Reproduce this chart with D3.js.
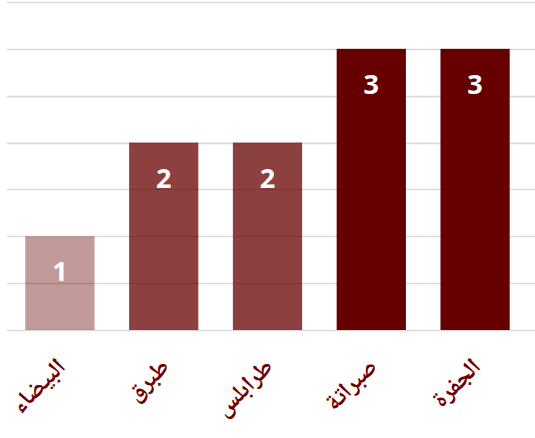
<!DOCTYPE html>
<html>
<head>
<meta charset="utf-8">
<script src="https://cdn.jsdelivr.net/npm/d3@7"></script>
<style>
  body { margin: 0; background: #fff; }
  .grid line { stroke: #d9d9d9; stroke-width: 1.3; }
  .value { fill: #fff; font-family: "Open Sans", sans-serif; font-weight: bold; font-size: 27px; }
  .cat { fill: #6e0000; font-family: "Noto Naskh Arabic", "Noto Sans Arabic", "DejaVu Sans", sans-serif; font-weight: bold; font-size: 24px; }
</style>
</head>
<body>
<div id="chart"></div>
<script>
// data
var categories = ['البيضاء', 'طبرق', 'طرابلس', 'صبراتة', 'الجفرة'];
var values = [1, 2, 2, 3, 3];
var shades = [0.4, 0.75, 0.75, 1, 1]; // bar opacity over the dark red
var gridTicks = [0, 0.5, 1, 1.5, 2, 2.5, 3, 3.5];

var width = 535, height = 438;

var svg = d3.select('#chart').append('svg')
  .attr('width', width)
  .attr('height', height);

var x = d3.scaleBand()
  .domain(categories)
  .range([8, 527])
  .paddingInner(0.333)
  .paddingOuter(0.1667);

var y = d3.scaleLinear()
  .domain([0, 3.5])
  .range([330, 2]);

// gridlines
svg.append('g').classed('grid', true)
  .selectAll('line')
  .data(gridTicks)
  .enter().append('line')
  .attr('x1', 7)
  .attr('x2', width)
  .attr('y1', function (d) { return Math.round(y(d)) + 0.5; })
  .attr('y2', function (d) { return Math.round(y(d)) + 0.5; });

// bars (semi transparent so grid shows through the light ones)
svg.append('g')
  .selectAll('rect')
  .data(values)
  .enter().append('rect')
  .attr('x', function (d, i) { return x(categories[i]); })
  .attr('width', x.bandwidth())
  .attr('y', function (d) { return y(d); })
  .attr('height', function (d) { return y(0) - y(d); })
  .attr('fill', '#660000')
  .attr('fill-opacity', function (d, i) { return shades[i]; });

// value labels inside top of bars
svg.append('g')
  .selectAll('text')
  .data(values)
  .enter().append('text')
  .classed('value', true)
  .attr('x', function (d, i) { return x(categories[i]) + x.bandwidth() / 2; })
  .attr('y', function (d) { return y(d) + 45; })
  .attr('text-anchor', 'middle')
  .text(function (d) { return d; });

// rotated category labels
svg.append('g')
  .selectAll('text')
  .data(categories)
  .enter().append('text')
  .classed('cat', true)
  .attr('direction', 'rtl')
  .attr('text-anchor', 'start')
  .attr('transform', function (d) {
    var cx = x(d) + x.bandwidth() / 2 + 7;
    return 'translate(' + cx + ',' + 368 + ') rotate(-45)';
  })
  .text(function (d) { return d; });
</script>
</body>
</html>
